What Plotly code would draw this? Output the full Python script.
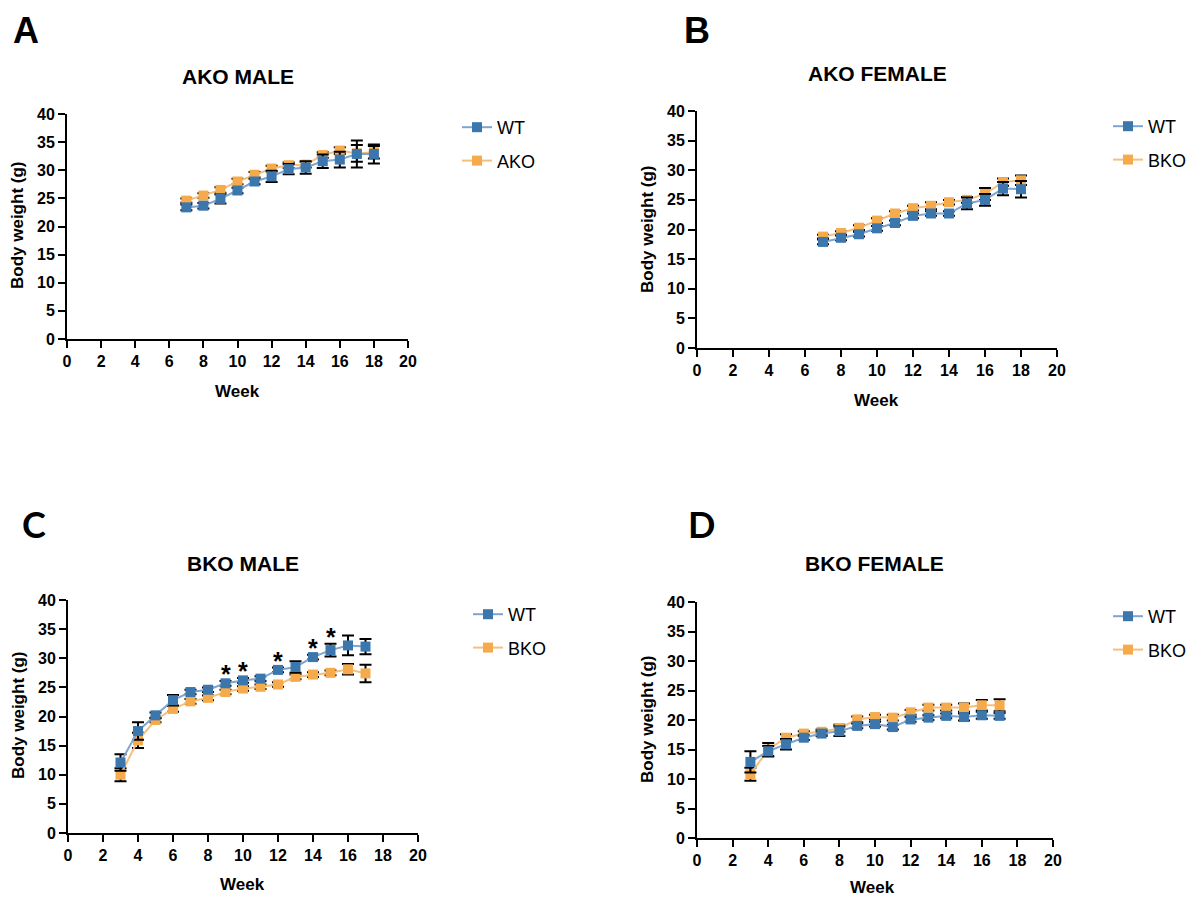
import plotly.graph_objects as go

W, H = 1199, 899

# ---- data -------------------------------------------------------------
weeks_a = [7, 8, 9, 10, 11, 12, 13, 14, 15, 16, 17, 18]
ako_male_wt = [23.4, 23.7, 24.9, 26.4, 28.0, 28.9, 30.2, 30.5, 31.6, 31.9, 32.9, 32.9]
ako_male_wt_sem = [0.5, 0.5, 0.8, 0.5, 0.5, 1.0, 0.9, 1.1, 1.2, 1.4, 2.4, 1.7]
ako_male_ko = [24.6, 25.5, 26.5, 28.0, 29.2, 30.3, 30.9, 31.0, 32.7, 33.5, 33.0, 33.2]
ako_male_ko_sem = [0.4, 0.4, 0.5, 0.5, 0.5, 0.5, 0.5, 0.5, 0.5, 0.6, 1.5, 1.1]

weeks_b = [7, 8, 9, 10, 11, 12, 13, 14, 15, 16, 17, 18]
ako_female_wt = [17.9, 18.6, 19.2, 20.2, 21.1, 22.3, 22.7, 22.7, 24.4, 25.0, 26.9, 26.8]
ako_female_wt_sem = [0.4, 0.4, 0.4, 0.4, 0.4, 0.4, 0.4, 0.4, 1.0, 1.0, 1.1, 1.4]
ako_female_ko = [18.8, 19.4, 20.3, 21.5, 22.7, 23.6, 24.0, 24.6, 25.0, 26.0, 28.0, 28.3]
ako_female_ko_sem = [0.3, 0.3, 0.4, 0.4, 0.4, 0.4, 0.6, 0.4, 0.5, 1.0, 0.6, 0.8]

weeks_c = [3, 4, 5, 6, 7, 8, 9, 10, 11, 12, 13, 14, 15, 16, 17]
bko_male_wt = [12.1, 17.5, 20.2, 22.8, 24.2, 24.6, 25.7, 26.2, 26.5, 28.0, 28.5, 30.2, 31.4, 32.2, 32.0]
bko_male_wt_sem = [1.4, 1.5, 0.5, 0.9, 0.4, 0.4, 0.4, 0.4, 0.4, 0.4, 1.0, 0.4, 1.1, 1.7, 1.3]
bko_male_ko = [10.0, 15.9, 19.4, 21.3, 22.6, 23.2, 24.2, 24.8, 25.1, 25.5, 26.8, 27.2, 27.5, 28.1, 27.4]
bko_male_ko_sem = [1.1, 1.3, 0.4, 0.5, 0.4, 0.4, 0.4, 0.4, 0.4, 0.4, 0.4, 0.4, 0.4, 0.9, 1.5]
bko_male_sig_weeks = [9, 10, 12, 14, 15]

weeks_d = [3, 4, 5, 6, 7, 8, 9, 10, 11, 12, 13, 14, 15, 16, 17]
bko_female_wt = [12.9, 14.7, 15.9, 17.0, 17.7, 18.1, 19.0, 19.3, 18.8, 20.1, 20.4, 20.7, 20.5, 20.8, 20.7]
bko_female_wt_sem = [1.8, 0.9, 0.9, 0.4, 0.4, 0.8, 0.4, 0.4, 0.4, 0.4, 0.4, 0.4, 0.6, 0.6, 0.5]
bko_female_ko = [10.8, 15.0, 17.0, 17.7, 18.0, 18.6, 20.1, 20.5, 20.4, 21.3, 22.1, 22.1, 22.1, 22.5, 22.5]
bko_female_ko_sem = [1.1, 1.1, 0.6, 0.4, 0.4, 0.6, 0.5, 0.4, 0.5, 0.4, 0.5, 0.5, 0.7, 0.9, 1.0]

x_ticks = list(range(0, 21, 2))
y_ticks = list(range(0, 41, 5))

# ---- style --------------------------------------------------------------
FONT = "Liberation Sans, Arial, sans-serif"
BLUE, BLUE_LINE = "#3b76ad", "#7ea5cf"
ORANGE, ORANGE_LINE = "#f5aa4c", "#f6be7c"


def px_x(px):
    return px / W


def px_y(py):
    return 1 - py / H


# panel geometry in pixels: plot box (left, right, top, bottom) and text anchors
panels = [
    dict(box=(67, 408, 114, 339), title="AKO MALE", title_y=77, ko="AKO", letter="A",
         weeks=weeks_a, wt=ako_male_wt, wt_e=ako_male_wt_sem,
         kov=ako_male_ko, ko_e=ako_male_ko_sem,
         legend=(457, 109), letter_pos=(26, 30), letter_font=FONT,
         xtitle=(237, 391), ytitle=(18, 226)),
    dict(box=(697, 1057, 111, 348), title="AKO FEMALE", title_y=73, ko="BKO", letter="B",
         weeks=weeks_b, wt=ako_female_wt, wt_e=ako_female_wt_sem,
         kov=ako_female_ko, ko_e=ako_female_ko_sem,
         legend=(1108, 108), letter_pos=(697, 30), letter_font=FONT,
         xtitle=(876, 400), ytitle=(647, 230)),
    dict(box=(68, 418, 600, 833), title="BKO MALE", title_y=563, ko="BKO", letter="C",
         weeks=weeks_c, wt=bko_male_wt, wt_e=bko_male_wt_sem,
         kov=bko_male_ko, ko_e=bko_male_ko_sem,
         legend=(468, 596), letter_pos=(34, 524), letter_font="Lato, sans-serif",
         xtitle=(242, 884), ytitle=(18, 716)),
    dict(box=(697, 1053, 602, 838), title="BKO FEMALE", title_y=563, ko="BKO", letter="D",
         weeks=weeks_d, wt=bko_female_wt, wt_e=bko_female_wt_sem,
         kov=bko_female_ko, ko_e=bko_female_ko_sem,
         legend=(1108, 598), letter_pos=(701, 524), letter_font="Lato, sans-serif",
         xtitle=(872, 887), ytitle=(647, 720)),
]

fig = go.Figure()
annotations = []
layout = {}

for i, p in enumerate(panels, start=1):
    sfx = "" if i == 1 else str(i)
    xa, ya = f"x{sfx}", f"y{sfx}"
    leg = f"legend{sfx}"
    left, right, top, bottom = p["box"]

    common = dict(
        showline=True, linecolor="black", linewidth=2,
        ticks="outside", ticklen=7, tickwidth=2, tickcolor="black",
        showgrid=False, zeroline=False, automargin=False,
        tickfont=dict(family=FONT, size=16, color="black", weight="bold"),
    )
    layout[f"xaxis{sfx}"] = dict(
        domain=[px_x(left), px_x(right)], anchor=ya, range=[0, 20],
        tickvals=x_ticks, ticktext=[str(v) for v in x_ticks], **common,
    )
    layout[f"yaxis{sfx}"] = dict(
        domain=[px_y(bottom), px_y(top)], anchor=xa, range=[0, 40],
        tickvals=y_ticks, ticktext=[str(v) for v in y_ticks], **common,
    )
    lx, ly = p["legend"]
    layout[leg] = dict(
        x=px_x(lx), y=px_y(ly), xanchor="left", yanchor="top",
        xref="paper", yref="paper",
        bgcolor="rgba(0,0,0,0)", borderwidth=0,
        font=dict(family=FONT, size=18, color="black"),
        tracegroupgap=7, itemwidth=30,
    )

    err_style = dict(type="data", color="black", thickness=2, width=6)

    # knockout group drawn first so WT sits on top
    fig.add_trace(go.Scatter(
        x=p["weeks"], y=p["kov"], mode="lines+markers", name=p["ko"],
        xaxis=xa, yaxis=ya, legend=leg, legendgroup=f"ko{i}", legendrank=2,
        line=dict(color=ORANGE_LINE, width=2),
        marker=dict(symbol="square", size=10, color=ORANGE),
        error_y=dict(array=p["ko_e"], **err_style),
    ))
    fig.add_trace(go.Scatter(
        x=p["weeks"], y=p["wt"], mode="lines+markers", name="WT",
        xaxis=xa, yaxis=ya, legend=leg, legendgroup=f"wt{i}", legendrank=1,
        line=dict(color=BLUE_LINE, width=2),
        marker=dict(symbol="square", size=10, color=BLUE),
        error_y=dict(array=p["wt_e"], **err_style),
    ))

    text_font = dict(family=FONT, size=17, color="black")
    # panel title
    annotations.append(dict(
        text=f"<b>{p['title']}</b>", x=px_x((left + right) / 2), y=px_y(p["title_y"]),
        xref="paper", yref="paper", xanchor="center", yanchor="middle",
        showarrow=False, font=dict(family=FONT, size=21, color="black"),
    ))
    # axis titles
    tx, ty = p["xtitle"]
    annotations.append(dict(
        text="<b>Week</b>", x=px_x(tx), y=px_y(ty), xref="paper", yref="paper",
        xanchor="center", yanchor="middle", showarrow=False, font=text_font,
    ))
    tx, ty = p["ytitle"]
    annotations.append(dict(
        text="<b>Body weight (g)</b>", x=px_x(tx), y=px_y(ty), xref="paper", yref="paper",
        xanchor="center", yanchor="middle", textangle=-90, showarrow=False, font=text_font,
    ))
    # panel letter
    cx, cy = p["letter_pos"]
    annotations.append(dict(
        text=f"<b>{p['letter']}</b>", x=px_x(cx), y=px_y(cy),
        xref="paper", yref="paper", xanchor="center", yanchor="middle",
        showarrow=False, font=dict(family=p["letter_font"], size=36, color="black"),
    ))

# significance marks on the BKO male panel
for wk in bko_male_sig_weeks:
    k = weeks_c.index(wk)
    annotations.append(dict(
        text="<b>*</b>", x=wk, y=bko_male_wt[k] + bko_male_wt_sem[k],
        xref="x3", yref="y3", xanchor="center", yanchor="bottom", yshift=-9,
        showarrow=False, font=dict(family=FONT, size=25, color="black"),
    ))

fig.update_layout(
    width=W, height=H,
    margin=dict(l=0, r=0, t=0, b=0, autoexpand=False),
    paper_bgcolor="white", plot_bgcolor="white",
    annotations=annotations,
    **layout,
)

fig.write_html("out.html")
